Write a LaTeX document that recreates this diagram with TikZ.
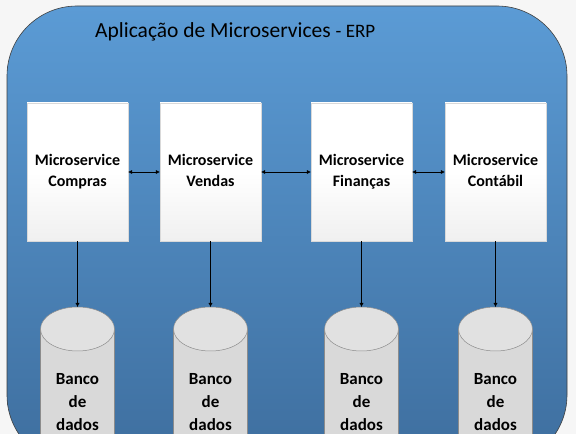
\documentclass[tikz,border=0pt]{standalone}
\usepackage{fontspec}
\setmainfont{Carlito}
\usepackage{tikz}
\usetikzlibrary{arrows.meta}

\definecolor{appblue}{RGB}{91,155,213}
\definecolor{appbluedark}{RGB}{62,110,158}
\definecolor{dbgray}{RGB}{217,217,217}
\definecolor{dbline}{RGB}{140,140,140}

\begin{document}
\begin{tikzpicture}[x=1pt,y=1pt,>={Latex[length=4pt,width=4pt]},
    msbox/.style={draw=gray!30, line width=0.3pt, top color=white, bottom color=gray!12, middle color=white,
        minimum width=101pt, minimum height=138pt, inner sep=0pt, align=center,
        font=\fontsize{16}{21}\selectfont\bfseries},
    dbcyl/.style={draw=dbline, line width=0.5pt, fill=dbgray},
    dbtext/.style={align=center, inner sep=0pt, font=\fontsize{17}{23}\selectfont\bfseries}]
    \useasboundingbox (0,0) rectangle (576,434);
    \clip (0,0) rectangle (576,434);
    \fill[gray!7] (0,0) rectangle (576,434); % background

    % Application frame
    \draw[black!75, line width=0.6pt, top color=appblue, middle color=appblue!92!appbluedark,
        bottom color=appbluedark, rounded corners=70pt] (7,-31) rectangle (567,428);
    \node[anchor=base west, inner sep=0pt, font=\fontsize{21.5}{26}\selectfont] (title) at (95,396)
        {Aplicação de Microservices {\fontsize{19}{22}\selectfont - ERP}};

    % Microservices
    \node[msbox] (compras) at (77.5,262) {\strut Microservice\\Compras\strut};
    \node[msbox] (vendas) at (210.5,262) {\strut Microservice\\Vendas\strut};
    \node[msbox] (financas) at (361.5,262) {\strut Microservice\\Finanças\strut};
    \node[msbox] (contabil) at (495.5,262) {\strut Microservice\\Contábil\strut};

    \draw[<->] (compras.east) -- (vendas.west);
    \draw[<->] (vendas.east) -- (financas.west);
    \draw[<->] (financas.east) -- (contabil.west);

    % DB Compras
    \draw[dbcyl] (40.5,105) -- (40.5,-30) -- (114.5,-30) -- (114.5,105);
    \draw[dbcyl, fill=dbgray!80!white] (77.5,105) ellipse [x radius=37, y radius=22];
    \coordinate (dbcompras) at (77.5,127);
    \node[dbtext] (bdcompras) at (77.5,32) {Banco\\de\\dados};

    % DB Vendas
    \draw[dbcyl] (173.5,105) -- (173.5,-30) -- (247.5,-30) -- (247.5,105);
    \draw[dbcyl, fill=dbgray!80!white] (210.5,105) ellipse [x radius=37, y radius=22];
    \coordinate (dbvendas) at (210.5,127);
    \node[dbtext] (bdvendas) at (210.5,32) {Banco\\de\\dados};

    % DB Financas
    \draw[dbcyl] (324.5,105) -- (324.5,-30) -- (398.5,-30) -- (398.5,105);
    \draw[dbcyl, fill=dbgray!80!white] (361.5,105) ellipse [x radius=37, y radius=22];
    \coordinate (dbfinancas) at (361.5,127);
    \node[dbtext] (bdfinancas) at (361.5,32) {Banco\\de\\dados};

    % DB Contabil
    \draw[dbcyl] (458.5,105) -- (458.5,-30) -- (532.5,-30) -- (532.5,105);
    \draw[dbcyl, fill=dbgray!80!white] (495.5,105) ellipse [x radius=37, y radius=22];
    \coordinate (dbcontabil) at (495.5,127);
    \node[dbtext] (bdcontabil) at (495.5,32) {Banco\\de\\dados};

    \draw[->] (compras.south) -- (dbcompras);
    \draw[->] (vendas.south) -- (dbvendas);
    \draw[->] (financas.south) -- (dbfinancas);
    \draw[->] (contabil.south) -- (dbcontabil);
\end{tikzpicture}
\end{document}
